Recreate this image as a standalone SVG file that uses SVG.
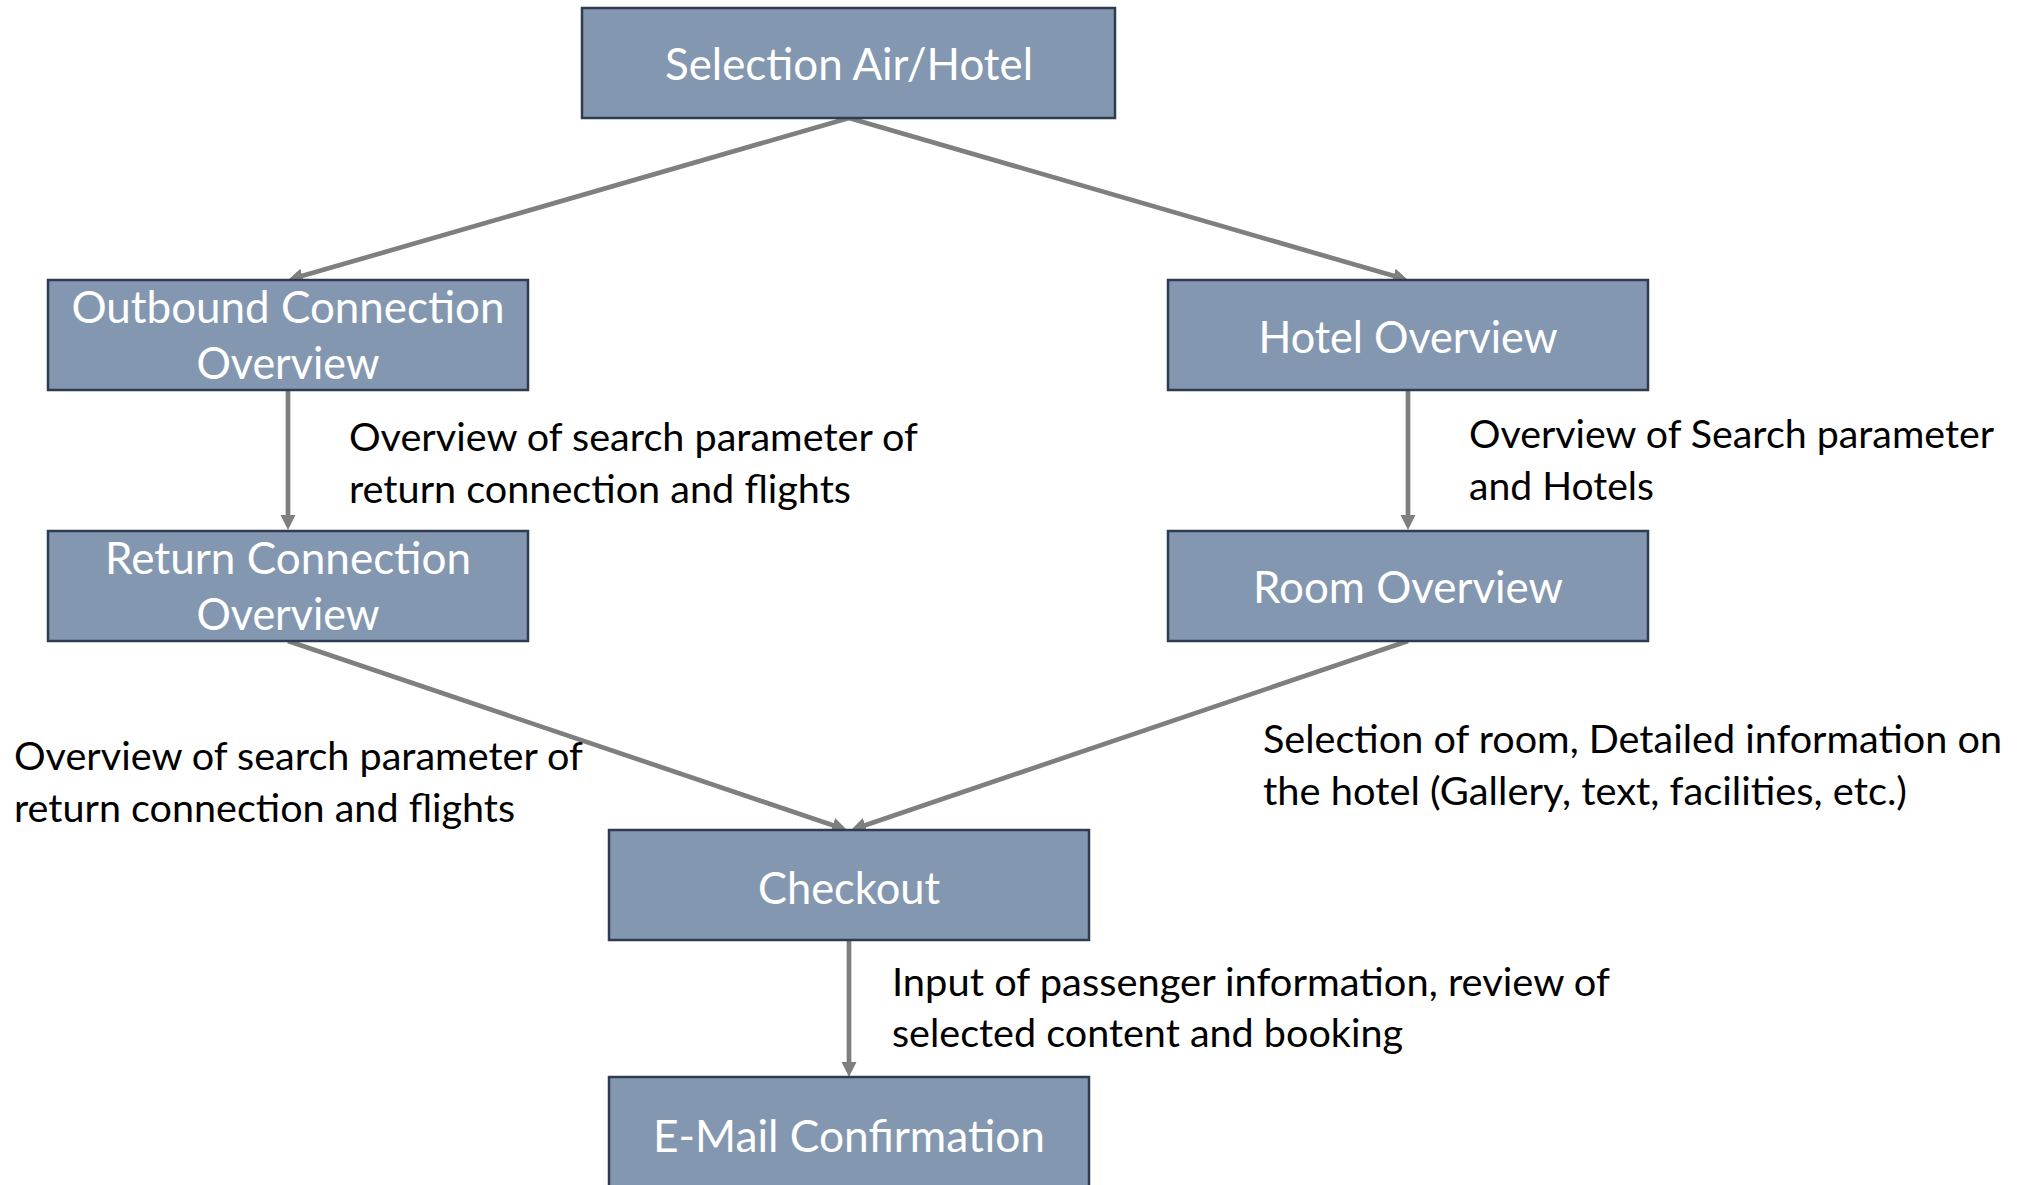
<svg xmlns="http://www.w3.org/2000/svg" width="2033" height="1185" viewBox="0 0 2033 1185">
  <style>
    .box { fill: #8497b0; stroke: #2f3c50; stroke-width: 2.5; }
    .btxt { font-family: Lato, "Open Sans", "Liberation Sans", sans-serif; font-size: 44px; fill: #ffffff; text-anchor: middle; }
    .lbl { font-family: Lato, "Open Sans", "Liberation Sans", sans-serif; font-size: 39px; fill: #000000; }
    .edge { fill: none; stroke: #7f7f7f; stroke-width: 4.7; marker-end: url(#arrow); }
  </style>
  <defs>
    <marker id="arrow" markerUnits="userSpaceOnUse" markerWidth="16" markerHeight="17" viewBox="0 0 16 17" refX="7" refY="8.5" orient="auto">
      <path d="M0,1 L15,8.5 L0,16 z" fill="#7f7f7f"/>
    </marker>
  </defs>

  <rect width="2033" height="1185" fill="#ffffff"/>

  <!-- connectors -->
  <g id="connectors">
    <path class="edge" d="M849,118 L295.7,277.8"/>
    <path class="edge" d="M849,118 L1400.3,277.8"/>
    <path class="edge" d="M288,390 L288,522"/>
    <path class="edge" d="M1408,390 L1408,522"/>
    <path class="edge" d="M288,641 L839.4,827.4"/>
    <path class="edge" d="M1408,641 L858.6,827.4"/>
    <path class="edge" d="M849,940 L849,1069"/>
  </g>

  <!-- nodes -->
  <g id="selection">
    <rect class="box" x="582" y="8" width="533" height="110"/>
    <text class="btxt" x="849" y="80" textLength="368" lengthAdjust="spacingAndGlyphs">Selection Air/Hotel</text>
  </g>
  <g id="outbound">
    <rect class="box" x="48" y="280" width="480" height="110"/>
    <text class="btxt" x="288" y="323" textLength="433" lengthAdjust="spacingAndGlyphs">Outbound Connection</text>
    <text class="btxt" x="288" y="379" textLength="183" lengthAdjust="spacingAndGlyphs">Overview</text>
  </g>
  <g id="hotel">
    <rect class="box" x="1168" y="280" width="480" height="110"/>
    <text class="btxt" x="1408" y="353" textLength="299" lengthAdjust="spacingAndGlyphs">Hotel Overview</text>
  </g>
  <g id="return">
    <rect class="box" x="48" y="531" width="480" height="110"/>
    <text class="btxt" x="288" y="574" textLength="366" lengthAdjust="spacingAndGlyphs">Return Connection</text>
    <text class="btxt" x="288" y="630" textLength="183" lengthAdjust="spacingAndGlyphs">Overview</text>
  </g>
  <g id="room">
    <rect class="box" x="1168" y="531" width="480" height="110"/>
    <text class="btxt" x="1408" y="603" textLength="310" lengthAdjust="spacingAndGlyphs">Room Overview</text>
  </g>
  <g id="checkout">
    <rect class="box" x="609" y="830" width="480" height="110"/>
    <text class="btxt" x="849" y="904" textLength="182" lengthAdjust="spacingAndGlyphs">Checkout</text>
  </g>
  <g id="email">
    <rect class="box" x="609" y="1077" width="480" height="120"/>
    <text class="btxt" x="849" y="1152" textLength="392" lengthAdjust="spacingAndGlyphs">E-Mail Confirmation</text>
  </g>

  <!-- edge descriptions -->
  <g id="labels">
    <text class="lbl" x="349" y="451" textLength="569" lengthAdjust="spacingAndGlyphs">Overview of search parameter of</text>
    <text class="lbl" x="349" y="503" textLength="502" lengthAdjust="spacingAndGlyphs">return connection and flights</text>

    <text class="lbl" x="1469" y="448" textLength="525" lengthAdjust="spacingAndGlyphs">Overview of Search parameter</text>
    <text class="lbl" x="1469" y="500" textLength="185" lengthAdjust="spacingAndGlyphs">and Hotels</text>

    <text class="lbl" x="14" y="770" textLength="569" lengthAdjust="spacingAndGlyphs">Overview of search parameter of</text>
    <text class="lbl" x="14" y="822" textLength="501" lengthAdjust="spacingAndGlyphs">return connection and flights</text>

    <text class="lbl" x="1263" y="753" textLength="739" lengthAdjust="spacingAndGlyphs">Selection of room, Detailed information on</text>
    <text class="lbl" x="1263" y="805" textLength="644" lengthAdjust="spacingAndGlyphs">the hotel (Gallery, text, facilities, etc.)</text>

    <text class="lbl" x="892" y="996" textLength="718" lengthAdjust="spacingAndGlyphs">Input of passenger information, review of</text>
    <text class="lbl" x="892" y="1047" textLength="511" lengthAdjust="spacingAndGlyphs">selected content and booking</text>
  </g>
</svg>
